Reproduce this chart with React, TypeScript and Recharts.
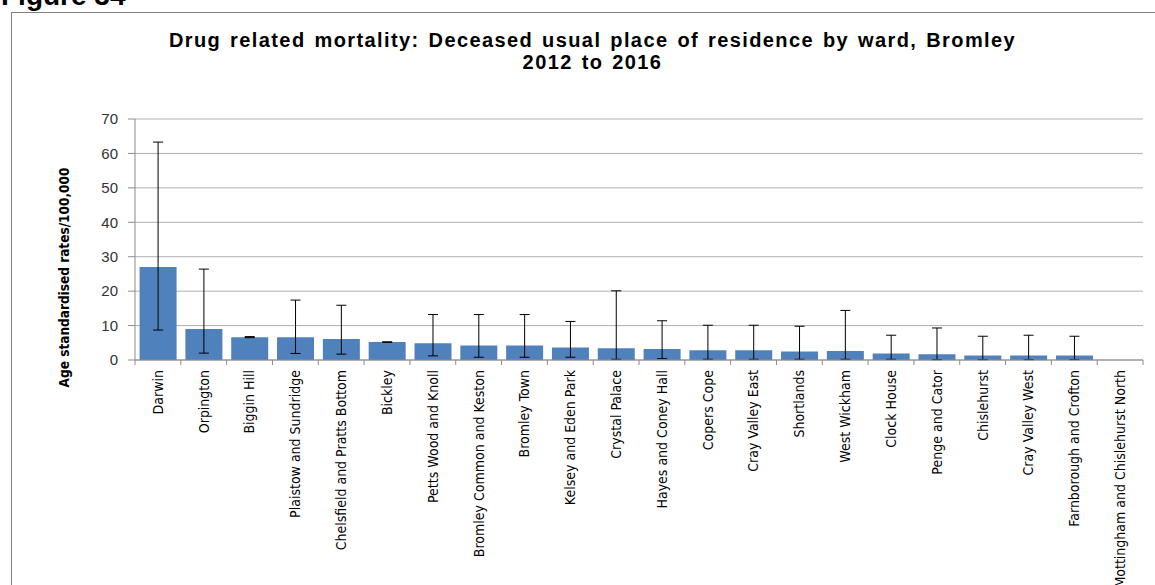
import { BarChart, Bar, XAxis, YAxis, CartesianGrid, ErrorBar, Label } from 'recharts';

const wards = [
  'Darwin',
  'Orpington',
  'Biggin Hill',
  'Plaistow and Sundridge',
  'Chelsfield and Pratts Bottom',
  'Bickley',
  'Petts Wood and Knoll',
  'Bromley Common and Keston',
  'Bromley Town',
  'Kelsey and Eden Park',
  'Crystal Palace',
  'Hayes and Coney Hall',
  'Copers Cope',
  'Cray Valley East',
  'Shortlands',
  'West Wickham',
  'Clock House',
  'Penge and Cator',
  'Chislehurst',
  'Cray Valley West',
  'Farnborough and Crofton',
  'Mottingham and Chislehurst North',
];
const rates = [27.0, 9.0, 6.6, 6.6, 6.1, 5.2, 4.9, 4.2, 4.2, 3.6, 3.4, 3.2, 2.8, 2.8, 2.5, 2.6, 1.9, 1.7, 1.3, 1.3, 1.3, 0];
const lowerCI = [8.7, 2.0, 6.5, 1.9, 1.7, 5.1, 1.2, 0.8, 0.8, 0.8, 0.2, 0.4, 0.2, 0.2, 0.2, 0.2, 0.2, 0.1, 0.1, 0.1, 0.1, null];
const upperCI = [63.3, 26.4, 6.8, 17.4, 15.9, 5.3, 13.2, 13.2, 13.2, 11.2, 20.1, 11.4, 10.1, 10.1, 9.8, 14.4, 7.2, 9.3, 6.9, 7.2, 6.9, null];
const yTicks = [0, 10, 20, 30, 40, 50, 60, 70];

const data = wards.map((ward, i) => ({
  ward,
  rate: rates[i],
  err: lowerCI[i] == null || upperCI[i] == null ? null : [rates[i] - (lowerCI[i] as number), (upperCI[i] as number) - rates[i]],
}));

const narrow = '"Liberation Sans Narrow", "DejaVu Sans Condensed", Arial, sans-serif';

function WardTick(props: any) {
  const { x, y, payload, index } = props;
  const half = payload.offset ?? 0;
  return (
    <g>
      {index === 0 && <line x1={x - half} x2={x - half} y1={y} y2={y + 5} stroke="#8c8c8c" />}
      <line x1={x + half} x2={x + half} y1={y} y2={y + 5} stroke="#8c8c8c" />
      <text
        x={x}
        y={y + 10}
        transform={`rotate(-90, ${x}, ${y + 10})`}
        textAnchor="end"
        dy="0.35em"
        fontFamily={narrow}
        fontSize={14}
        fill="#000"
      >
        {payload.value}
      </text>
    </g>
  );
}

function AxisTitle(props: any) {
  const { viewBox } = props;
  const cx = viewBox.x + 64;
  const cy = viewBox.y + viewBox.height / 2 + 38;
  return (
    <text
      x={cx}
      y={cy}
      transform={`rotate(-90, ${cx}, ${cy})`}
      textAnchor="middle"
      dy="0.35em"
      fontFamily={narrow}
      fontWeight="bold"
      fontSize={13.5}
      fill="#000"
    >
      Age standardised rates/100,000
    </text>
  );
}

export default function App() {
  return (
    <div style={{ position: 'absolute', left: 0, top: 0, width: 1155, height: 585, overflow: 'hidden', background: '#fff' }}>
      <div
        style={{
          position: 'absolute',
          left: 1,
          top: -20,
          fontFamily: 'Arial, "Liberation Sans", sans-serif',
          fontWeight: 'bold',
          fontSize: 28,
          lineHeight: '32px',
          color: '#000',
        }}
      >
        Figure 34
      </div>
      <div style={{ position: 'absolute', left: 11, top: 12, width: 1170, height: 600, border: '1px solid #808080' }} />
      <div
        style={{
          position: 'absolute',
          left: 0,
          top: 29,
          width: 1185,
          textAlign: 'center',
          fontFamily: 'Arial, "Liberation Sans", sans-serif',
          fontWeight: 'bold',
          fontSize: 20,
          letterSpacing: 1.4,
          wordSpacing: 2,
          lineHeight: '22px',
          color: '#000',
        }}
      >
        Drug related mortality: Deceased usual place of residence by ward, Bromley
        <br />
        2012 to 2016
      </div>
      <div style={{ position: 'absolute', left: 0, top: 0 }}>
        <BarChart
          width={1155}
          height={585}
          data={data}
          margin={{ top: 119, right: 12, left: 0, bottom: 0 }}
          barCategoryGap="10%"
        >
          <CartesianGrid vertical={false} stroke="#b0b0b0" />
          <XAxis
            dataKey="ward"
            interval={0}
            height={225}
            tickSize={0}
            tickMargin={0}
            tickLine={false}
            axisLine={{ stroke: '#8c8c8c' }}
            tick={<WardTick />}
          />
          <YAxis
            width={135}
            domain={[0, 70]}
            ticks={yTicks}
            interval={0}
            tickSize={7}
            tickMargin={10}
            axisLine={{ stroke: '#8c8c8c' }}
            tickLine={{ stroke: '#8c8c8c' }}
            tick={{ fill: '#333', fontSize: 15, fontFamily: 'Arial, "Liberation Sans", sans-serif' }}
          >
            <Label content={<AxisTitle />} />
          </YAxis>
          <Bar dataKey="rate" fill="#4f81bd" isAnimationActive={false}>
            <ErrorBar dataKey="err" width={5} stroke="#000" strokeWidth={1} direction="y" />
          </Bar>
        </BarChart>
      </div>
    </div>
  );
}
